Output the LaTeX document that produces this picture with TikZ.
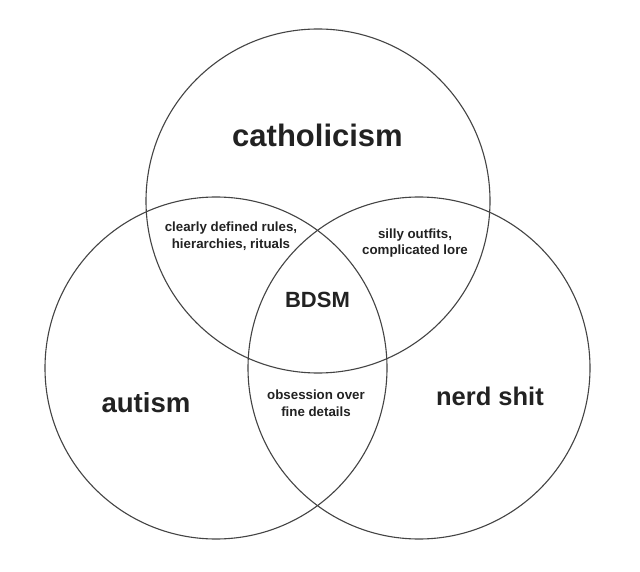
\documentclass[tikz,border=0pt]{standalone}
\usepackage{fontspec}
\setmainfont{Liberation Sans}
\definecolor{linec}{HTML}{444444}
\definecolor{textc}{HTML}{222222}
\begin{document}
\begin{tikzpicture}[x=1pt,y=-1pt,
  ring/.style={draw=linec,line width=1.1pt},
  big/.style={text=textc,font=\bfseries\fontsize{#1}{30}\selectfont},
  mid/.style={text=textc,font=\bfseries\fontsize{22}{24}\selectfont},
  small/.style={text=textc,font=\bfseries\fontsize{13.3}{16.5}\selectfont,align=center}]
\useasboundingbox[fill=white] (0,0) rectangle (640,572);
\draw[ring] (318,201) circle[radius=172];
\draw[ring] (216,368) circle[radius=171];
\draw[ring] (419,368) circle[radius=171];
\node[big=31] (cath) at (317.5,135) {catholicism};
\node[big=27.6] (aut) at (146,403) {autism};
\node[big=25.5] (nerd) at (490,396) {nerd shit};
\node[mid] (bdsm) at (317.5,300) {BDSM};
\node[small] (rules) at (231,236) {clearly defined rules,\\hierarchies, rituals};
\node[small] (silly) at (415,243) {silly outfits,\\complicated lore};
\node[small] (obs) at (316,403) {obsession over\\fine details};
\end{tikzpicture}
\end{document}
